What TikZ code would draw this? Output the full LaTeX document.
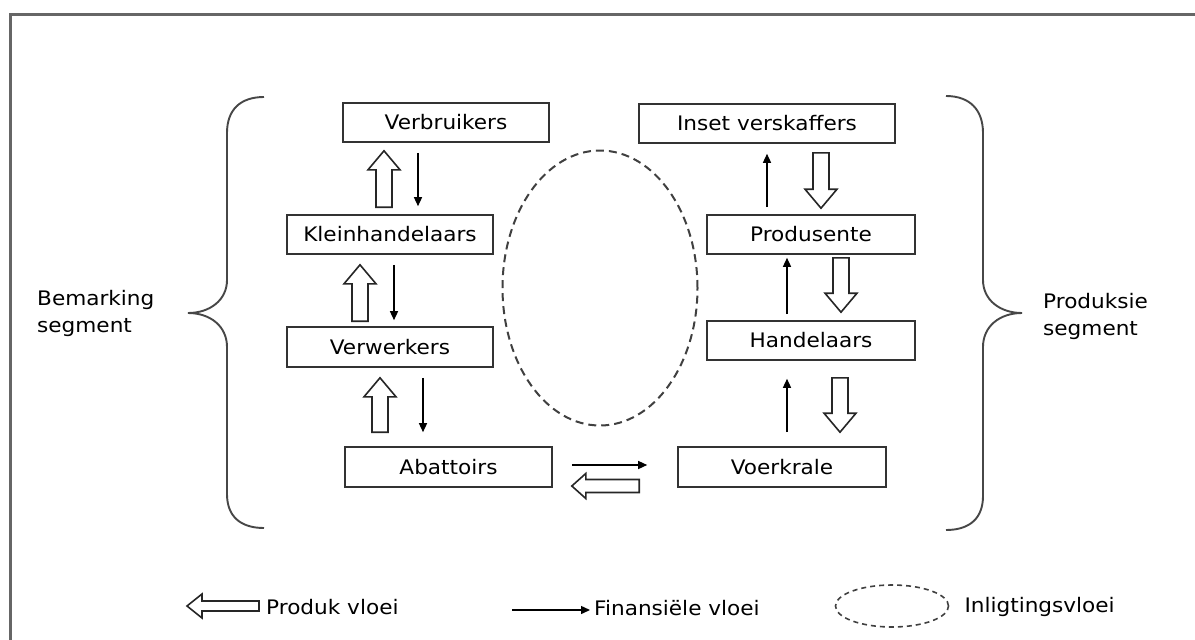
\documentclass[tikz,border=0pt]{standalone}
\usepackage{fontspec}
\setmainfont{DejaVu Sans}[FakeStretch=1.08]
\usetikzlibrary{calc,arrows.meta,shapes.geometric}
\begin{document}
\begin{tikzpicture}[x=1pt,y=-1pt,
  every node/.style={font=\fontsize{20}{27}\selectfont, text=black},
  stagebox/.style={draw=black!80, line width=1.6pt, rectangle, inner sep=0pt,
    minimum height=39pt, minimum width=207pt},
  plain text/.style={inner sep=0pt, align=left},
  frame/.style={draw=black!60, line width=2.4pt},
  bracket/.style={draw=black!72, line width=1.9pt},
  money/.style={draw=black, line width=1.4pt, -{Triangle[length=9pt,width=8pt]}},
  infoflow/.style={draw=black!75, line width=2pt, ellipse, inner sep=0pt,
    dash pattern=on 8pt off 5pt},
  % hollow block arrow: #1 half shaft width, #2 half head width, #3 head length
  goods/.style n args={3}{draw=black!85, line width=1.6pt, fill=white, line join=miter,
    to path={let \p1=(\tikztostart), \p2=(\tikztotarget) in
      ($(\p1)!#1!90:(\p2)$)
      -- ($(\p2)!#3!(\p1)!#1!90:(\p2)$)
      -- ($(\p2)!#3!(\p1)!#2!90:(\p2)$)
      -- (\p2)
      -- ($(\p2)!#3!(\p1)!#2!-90:(\p2)$)
      -- ($(\p2)!#3!(\p1)!#1!-90:(\p2)$)
      -- ($(\p1)!#1!-90:(\p2)$) -- cycle}},
  goods big/.style={goods={8pt}{16pt}{19pt}},
  goods side/.style={goods={6.5pt}{12.5pt}{14pt}},
  goods key/.style={goods={5pt}{12pt}{15pt}}
]
\useasboundingbox (0,0) rectangle (1195,640);

% outer frame (top and left edges)
\draw[frame] (10.5,640) -- (10.5,14.5) -- (1195,14.5);

% marketing chain (left column)
\node[stagebox, minimum width=206pt] (verb) at (446,122.5) {Verbruikers};
\node[stagebox, minimum width=206pt] (kle)  at (390,234.5) {Kleinhandelaars};
\node[stagebox, minimum width=206pt, minimum height=40pt] (verw) at (390,347) {Verwerkers};
\node[stagebox, minimum height=40pt] (abat) at (448.5,467) {Abattoirs};

% production chain (right column)
\node[stagebox, minimum width=256pt] (inset) at (767,123.5) {Inset verskaffers};
\node[stagebox, minimum width=208pt] (prod) at (811,234.5) {Produsente};
\node[stagebox, minimum width=208pt] (hand) at (811,340.5) {Handelaars};
\node[stagebox, minimum width=208pt, minimum height=40pt] (voer) at (782,467) {Voerkrale};

% information flow
\node[infoflow, minimum width=195pt, minimum height=275pt] (info) at (600,288) {};

% product flow
\draw[goods big] ($(kle.north)+(-6,-7)$) to ($(verb.south -| kle.north)+(-6,8)$);
\draw[goods big] ($(verw.north)+(-30,-5)$) to ($(kle.south -| verw.north)+(-30,10)$);
\draw[goods big] ($(abat.north)+(-68.5,-14)$) to ($(verw.south -| abat.north)+(-68.5,10)$);
\draw[goods big] ($(inset.south)+(54,9)$) to ($(prod.north -| inset.south)+(54,-6)$);
\draw[goods big] ($(prod.south)+(30,3)$) to ($(hand.north -| prod.south)+(30,-8)$);
\draw[goods big] ($(hand.south)+(29,17)$) to ($(voer.north -| hand.south)+(29,-14)$);
\draw[goods side] ($(voer.west)+(-38,19)$) to ($(abat.east |- voer.west)+(19,19)$);

% financial flow
\draw[money] ($(verb.south)+(-28,10)$) -- ($(kle.north -| verb.south)+(-28,-8)$);
\draw[money] ($(kle.south)+(4,10)$) -- ($(verw.north)+(4,-6)$);
\draw[money] ($(verw.south)+(33,10)$) -- ($(abat.north -| verw.south)+(33,-14)$);
\draw[money] ($(prod.north)+(-44,-7)$) -- ($(inset.south -| prod.north)+(-44,10)$);
\draw[money] ($(hand.north)+(-24,-6)$) -- ($(prod.south)+(-24,3)$);
\draw[money] ($(voer.north)+(5,-14)$) -- ($(hand.south -| voer.north)+(5,18)$);
\draw[money] ($(abat.east)+(19,-2)$) -- ($(voer.west)+(-30,-2)$);

% segment brackets
\draw[bracket] (264,97) .. controls (240,97) and (227,110) .. (227,133)
  -- (227,280) .. controls (227,300) and (210,313) .. (188,313)
  .. controls (210,313) and (227,326) .. (227,347)
  -- (227,494) .. controls (227,516) and (240,528) .. (264,528);
\draw[bracket] (946,96) .. controls (970,96) and (983,110) .. (983,133)
  -- (983,280) .. controls (983,300) and (1000,313) .. (1022,313)
  .. controls (1000,313) and (983,326) .. (983,347)
  -- (983,496) .. controls (983,518) and (970,530) .. (946,530);
\node[plain text, anchor=west] (mkt) at (37,313) {Bemarking\\segment};
\node[plain text, anchor=west] (prd) at (1043,316) {Produksie\\segment};

% key
\node[plain text, anchor=west] (keyprod) at (266,607) {Produk vloei};
\coordinate (keyprodtip) at (187,606);
\draw[goods key] ($(keyprod.west)+(-7,-1)$) to (keyprodtip);

\node[plain text, anchor=west] (keyfin) at (594,608) {Finansiële vloei};
\coordinate (keyfinstart) at (512,610);
\draw[money] (keyfinstart) -- ($(keyfin.west)+(-4,2)$);

\node[infoflow, line width=1.6pt, dash pattern=on 5pt off 4pt,
  minimum width=113pt, minimum height=42pt] (keyinfo) at (892,606) {};
\node[plain text, anchor=west] (keyinfotext) at ($(keyinfo.east)+(15,1)$) {Inligtingsvloei};
\end{tikzpicture}
\end{document}
